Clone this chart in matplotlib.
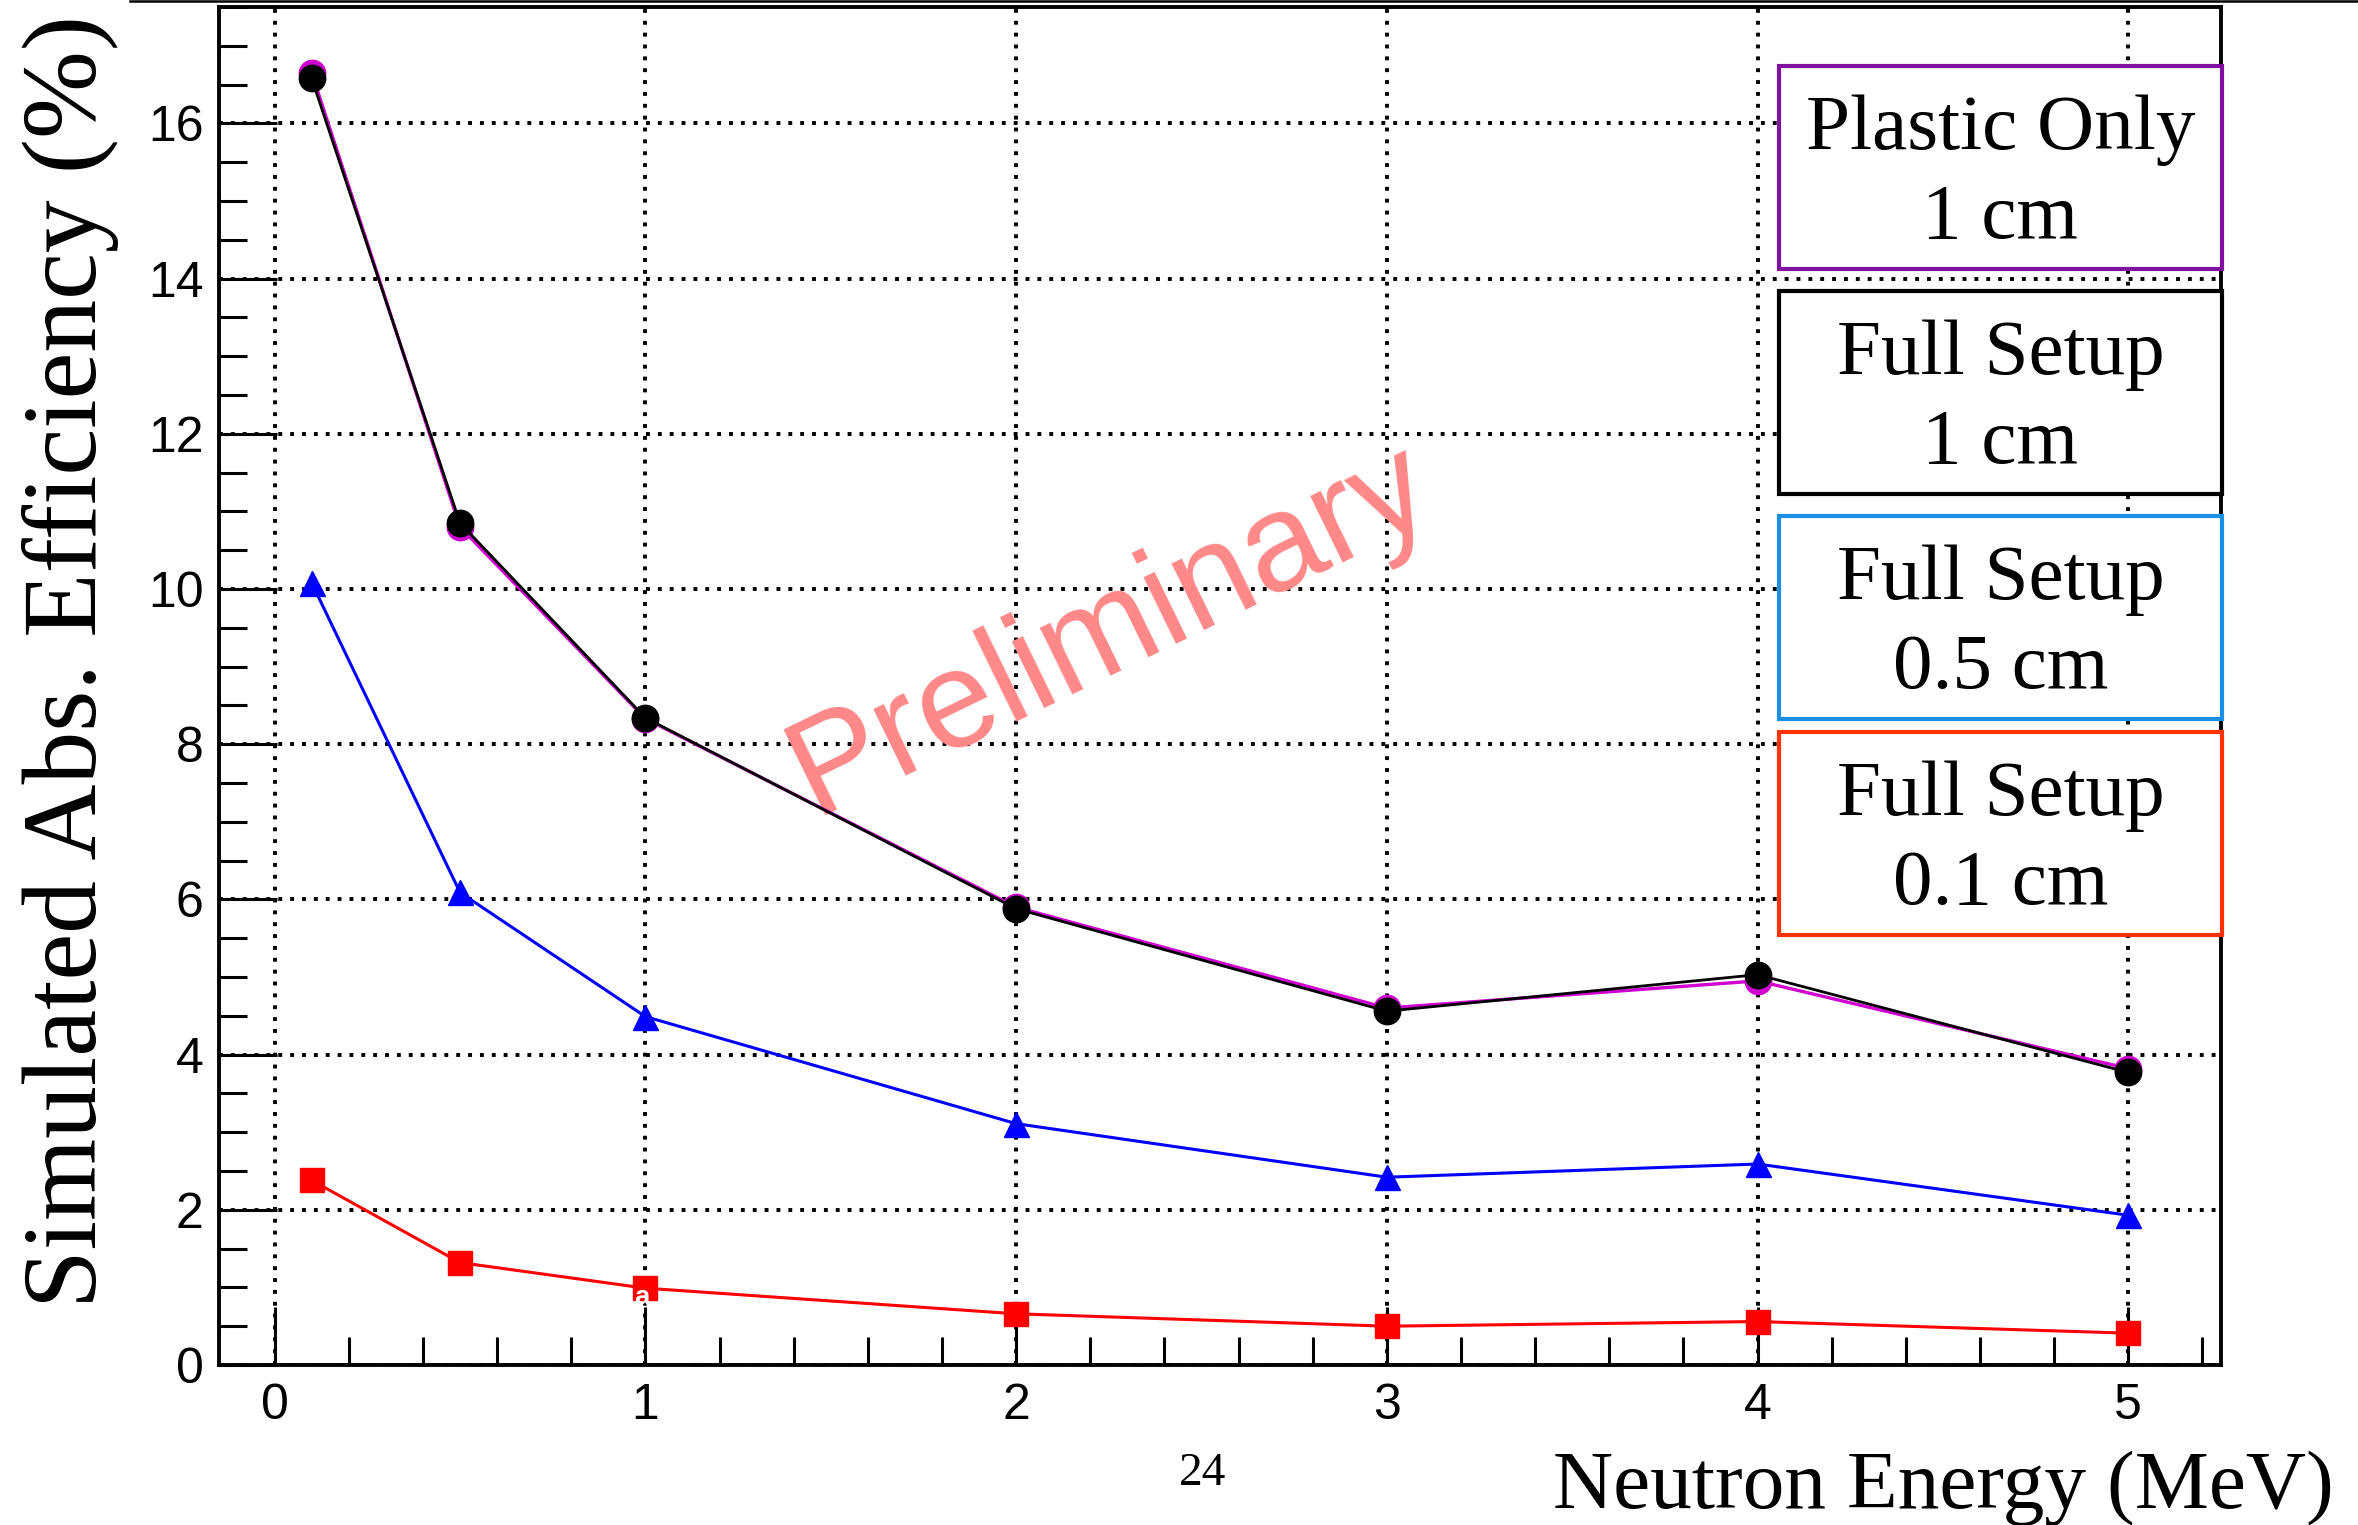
import matplotlib
matplotlib.use("Agg")
import matplotlib.pyplot as plt
from matplotlib.patches import Rectangle
from matplotlib.lines import Line2D
from matplotlib.ticker import MultipleLocator

# data
energy = [0.1, 0.5, 1, 2, 3, 4, 5]
plastic_1cm = [16.65, 10.80, 8.33, 5.90, 4.60, 4.95, 3.82]
full_1cm = [16.58, 10.85, 8.34, 5.88, 4.56, 5.03, 3.77]
full_05cm = [10.08, 6.09, 4.49, 3.11, 2.42, 2.59, 1.93]
full_01cm = [2.38, 1.32, 0.99, 0.66, 0.50, 0.56, 0.41]

legend_labels = [("Plastic Only", "1 cm"), ("Full Setup", "1 cm"),
                 ("Full Setup", "0.5 cm"), ("Full Setup", "0.1 cm")]
legend_colors = ["#8010a0", "black", "#1a8fe6", "#ff3300"]

W, H = 2358, 1525
fig = plt.figure(figsize=(W / 100, H / 100), dpi=100)
ax = fig.add_axes([219 / W, 1 - 1365 / H, (2221 - 219) / W, (1365 - 7) / H])

sans = "Liberation Sans"
serif = "Liberation Serif"

ax.plot(energy, full_05cm, color="blue", lw=2.2, marker="^", ms=18, zorder=3)
ax.plot(energy, full_01cm, color="red", lw=2.2, marker="s", ms=17, zorder=3)
ax.plot(energy, plastic_1cm, color="#d000d0", lw=2.4, marker="o", ms=19, zorder=4)
ax.plot(energy, full_1cm, color="black", lw=2.0, marker="o", ms=19, zorder=5)

ax.set_xlim(-0.15, 5.25)
ax.set_ylim(0, 17.5)
ax.xaxis.set_major_locator(MultipleLocator(1))
ax.xaxis.set_minor_locator(MultipleLocator(0.2))
ax.yaxis.set_major_locator(MultipleLocator(2))
ax.yaxis.set_minor_locator(MultipleLocator(0.5))

ax.grid(True, which="major", color="black", lw=2.8, linestyle=(0, (1.0, 2.05)))
ax.set_axisbelow(True)

ax.tick_params(which="major", direction="in", length=42, width=2.2,
               labelsize=36, pad=13)
ax.tick_params(which="minor", direction="in", length=20, width=2.2)
ax.tick_params(axis="y", which="major", pad=11)
for lab in ax.get_xticklabels() + ax.get_yticklabels():
    lab.set_fontfamily(sans)
for sp in ax.spines.values():
    sp.set_linewidth(2.8)

# watermark
ax.text(0.445, 0.541, "Preliminary", transform=ax.transAxes, rotation=26,
        rotation_mode="anchor", ha="center", va="center", fontsize=100,
        family=sans, color="#ff8888", zorder=2)
ax.text(0.97, 0.86, "- a", color="white", fontsize=20, fontweight="bold",
        family=sans, ha="center", va="center", zorder=6)

# legend boxes (one per curve)
box_x0, box_x1 = 1779, 2222
box_tops = [66, 291, 516, 732]
box_h = 203
for (l1, l2), col, top in zip(legend_labels, legend_colors, box_tops):
    fig.add_artist(Rectangle((box_x0 / W, 1 - (top + box_h) / H),
                             (box_x1 - box_x0) / W, box_h / H,
                             transform=fig.transFigure, facecolor="white",
                             edgecolor=col, lw=3.0, zorder=10))
    xc = (box_x0 + box_x1) / 2 / W
    fig.text(xc, 1 - (top + 83) / H, l1, ha="center", va="baseline",
             fontsize=57, family=serif, zorder=11)
    fig.text(xc, 1 - (top + 172) / H, l2, ha="center", va="baseline",
             fontsize=57, family=serif, zorder=11)

# axis titles
fig.text(70 / W, 1 - 662 / H, "Simulated Abs. Efficiency (%)", rotation=90,
         ha="center", va="center", fontsize=76, family=serif)
fig.text(2334 / W, 1 - 1508 / H, "Neutron Energy (MeV)", ha="right",
         va="baseline", fontsize=60, family=serif)

# page number and slide border line
fig.text(1203 / W, 1 - 1474 / H, "24", ha="center", va="center",
         fontsize=34, family=serif)
fig.add_artist(Line2D([130 / W, 1], [1 - 1 / H, 1 - 1 / H],
                      transform=fig.transFigure, color="black", lw=1.8))

fig.savefig("out.png", dpi=100)
